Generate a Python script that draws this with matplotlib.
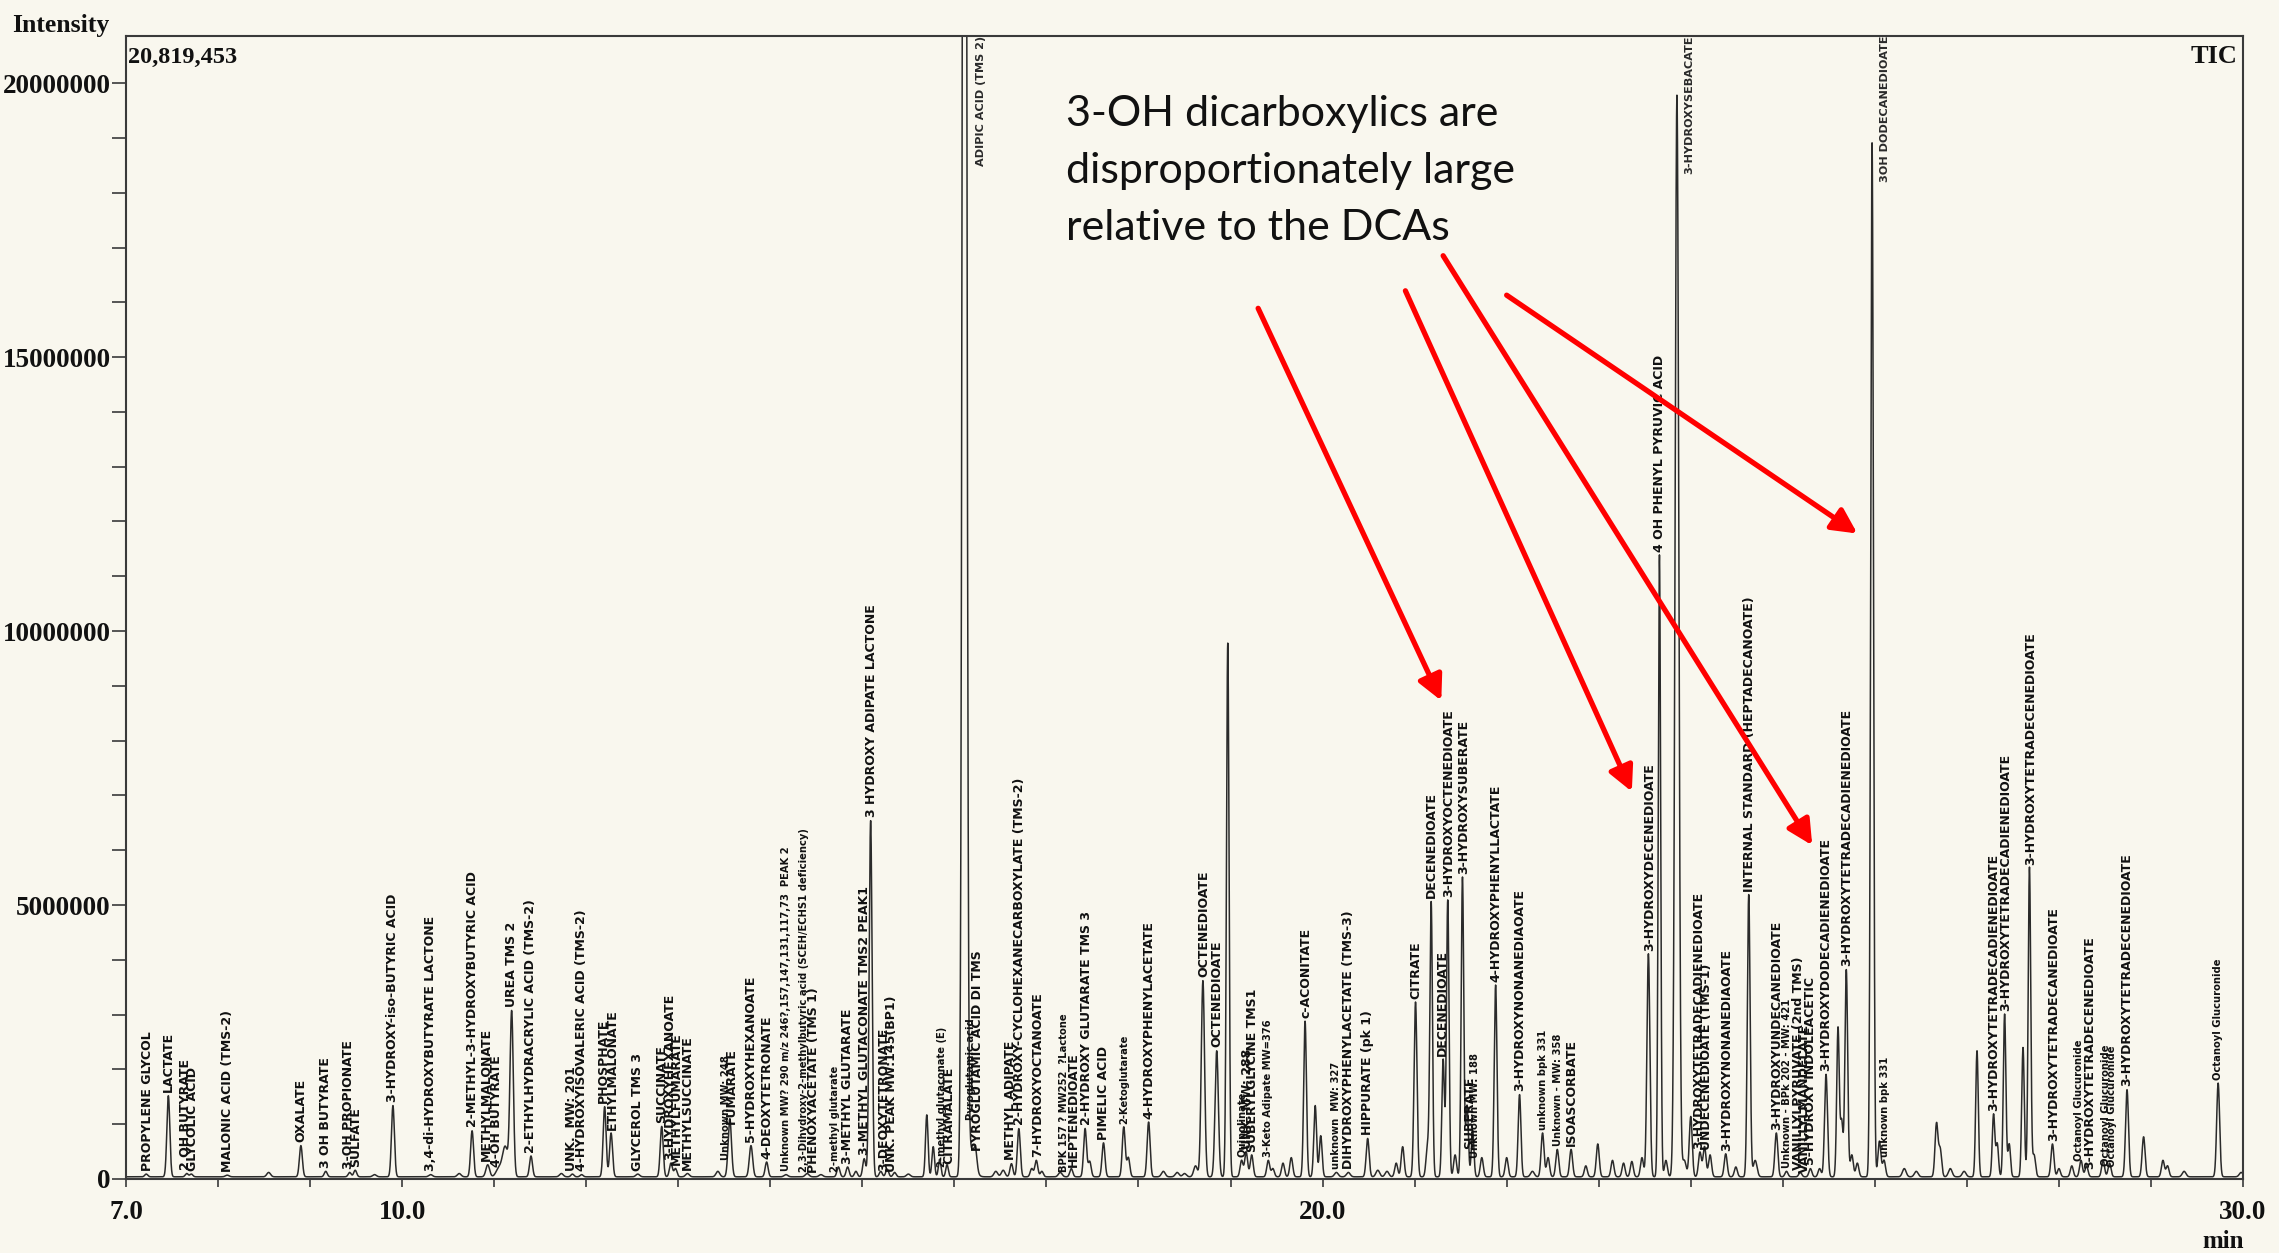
import numpy as np
import matplotlib.pyplot as plt
from matplotlib import font_manager
from matplotlib.ticker import FixedLocator, MultipleLocator, FuncFormatter

# ---------------------------------------------------------------------
# TIC peaks: retention time (min), height (x1e6), sigma (min)
# ---------------------------------------------------------------------
peak_rt = [7.22, 7.46, 7.66, 7.71, 8.10, 8.55, 8.90, 9.17, 9.43, 9.49,
           9.70, 9.90, 10.31, 10.62, 10.76, 10.93, 11.05, 11.12, 11.19, 11.40,
           11.73, 11.85, 11.95, 12.20, 12.27, 12.56, 12.82, 12.92, 12.97, 13.10,
           13.43, 13.56, 13.79, 13.96, 14.17, 14.40, 14.55, 14.74, 14.84, 14.93,
           15.02, 15.09, 15.20, 15.27, 15.35, 15.50, 15.70, 15.77, 15.84, 15.92,
           16.11, 16.18, 16.23, 16.45, 16.53, 16.62, 16.70, 16.84, 16.89, 16.95,
           17.15, 17.27, 17.42, 17.47, 17.62, 17.84, 17.89, 18.11, 18.27, 18.42,
           18.50, 18.62, 18.70, 18.85, 18.97, 19.12, 19.17, 19.23, 19.41, 19.46,
           19.57, 19.66, 19.81, 19.92, 19.98, 20.15, 20.28, 20.49, 20.60, 20.70,
           20.80, 20.87, 21.01, 21.14, 21.18, 21.31, 21.36, 21.44, 21.52, 21.57,
           21.63, 21.73, 21.88, 22.00, 22.14, 22.28, 22.39, 22.45, 22.55, 22.70,
           22.86, 22.99, 23.15, 23.27, 23.36, 23.47, 23.54, 23.66, 23.73, 23.85,
           23.93, 24.00, 24.10, 24.15, 24.21, 24.38, 24.49, 24.63, 24.70, 24.93,
           25.04, 25.19, 25.30, 25.40, 25.47, 25.60, 25.64, 25.69, 25.75, 25.81,
           25.97, 26.05, 26.10, 26.32, 26.45, 26.67, 26.71, 26.82, 26.97, 27.11,
           27.29, 27.33, 27.41, 27.46, 27.61, 27.68, 27.73, 27.93, 28.00, 28.14,
           28.24, 28.30, 28.48, 28.55, 28.74, 28.92, 29.13, 29.18, 29.36, 29.73,
           29.98]
peak_height = [0.05, 1.48, 0.06, 0.05, 0.03, 0.08, 0.57, 0.10, 0.08, 0.12,
               0.04, 1.30, 0.04, 0.06, 0.84, 0.22, 0.15, 0.55, 3.00, 0.38,
               0.06, 0.05, 0.04, 1.28, 0.80, 0.05, 0.92, 0.25, 0.15, 0.06,
               0.10, 1.06, 0.57, 0.27, 0.04, 0.06, 0.04, 0.18, 0.18, 0.10,
               0.33, 6.50, 0.10, 0.14, 0.08, 0.05, 1.13, 0.55, 0.32, 0.22,
               45.0, 0.50, 0.30, 0.10, 0.12, 0.24, 0.88, 0.15, 0.30, 0.10,
               0.08, 0.15, 0.88, 0.28, 0.62, 0.91, 0.35, 1.00, 0.10, 0.08,
               0.06, 0.20, 3.58, 2.30, 9.74, 0.30, 0.45, 0.40, 0.30, 0.15,
               0.25, 0.35, 2.84, 1.30, 0.75, 0.08, 0.08, 0.70, 0.12, 0.10,
               0.25, 0.55, 3.19, 0.55, 5.00, 2.14, 5.05, 0.40, 5.47, 1.30,
               0.85, 0.35, 3.50, 0.35, 1.50, 0.10, 0.80, 0.35, 0.50, 0.50,
               0.20, 0.60, 0.30, 0.25, 0.28, 0.35, 4.07, 11.35, 0.30, 19.74,
               0.30, 1.10, 0.45, 0.55, 0.40, 0.42, 0.18, 5.15, 0.30, 0.80,
               0.10, 0.08, 0.15, 0.15, 1.87, 2.72, 1.00, 3.78, 0.40, 0.25,
               18.87, 0.65, 0.30, 0.15, 0.10, 0.97, 0.50, 0.15, 0.10, 2.30,
               1.14, 0.60, 2.97, 0.60, 2.36, 5.65, 0.40, 0.60, 0.15, 0.20,
               0.30, 0.20, 0.30, 0.25, 1.59, 0.73, 0.30, 0.20, 0.10, 1.71,
               0.08]
peak_sigma = [0.016, 0.016, 0.016, 0.016, 0.020, 0.020, 0.016, 0.016, 0.016, 0.016,
              0.020, 0.016, 0.020, 0.020, 0.016, 0.020, 0.030, 0.030, 0.018, 0.016,
              0.020, 0.016, 0.016, 0.016, 0.016, 0.020, 0.016, 0.016, 0.016, 0.020,
              0.020, 0.018, 0.018, 0.016, 0.020, 0.020, 0.020, 0.016, 0.016, 0.016,
              0.016, 0.016, 0.016, 0.016, 0.016, 0.020, 0.014, 0.014, 0.014, 0.014,
              0.020, 0.040, 0.016, 0.020, 0.020, 0.016, 0.016, 0.016, 0.016, 0.016,
              0.020, 0.016, 0.016, 0.016, 0.016, 0.016, 0.016, 0.016, 0.020, 0.020,
              0.020, 0.020, 0.018, 0.018, 0.014, 0.016, 0.016, 0.016, 0.016, 0.016,
              0.016, 0.016, 0.015, 0.015, 0.015, 0.020, 0.020, 0.016, 0.020, 0.020,
              0.016, 0.016, 0.016, 0.016, 0.014, 0.014, 0.014, 0.016, 0.014, 0.014,
              0.014, 0.016, 0.015, 0.016, 0.015, 0.020, 0.016, 0.016, 0.016, 0.016,
              0.016, 0.016, 0.016, 0.016, 0.016, 0.016, 0.016, 0.013, 0.016, 0.020,
              0.020, 0.016, 0.016, 0.016, 0.016, 0.016, 0.016, 0.015, 0.020, 0.016,
              0.016, 0.016, 0.016, 0.016, 0.016, 0.014, 0.014, 0.015, 0.016, 0.016,
              0.015, 0.016, 0.016, 0.020, 0.020, 0.016, 0.016, 0.020, 0.020, 0.014,
              0.014, 0.014, 0.014, 0.014, 0.014, 0.014, 0.016, 0.016, 0.016, 0.016,
              0.016, 0.016, 0.016, 0.016, 0.016, 0.016, 0.016, 0.016, 0.020, 0.016,
              0.020]
baseline = 0.04  # x1e6

# peak names printed above the apexes
label_rt = [7.23, 7.46, 7.65, 7.72, 8.10, 8.90, 9.17, 9.42, 9.49, 9.90,
            10.31, 10.76, 10.92, 11.02, 11.19, 11.40, 11.84, 11.95, 12.19, 12.28,
            12.56, 12.82, 12.91, 12.98, 13.10, 13.52, 13.58, 13.79, 13.96, 14.17,
            14.37, 14.47, 14.70, 14.84, 15.02, 15.10, 15.23, 15.32, 15.87, 15.94,
            16.18, 16.25, 16.61, 16.71, 16.90, 17.19, 17.29, 17.43, 17.62, 17.85,
            18.11, 18.71, 18.85, 19.12, 19.18, 19.24, 19.41, 19.82, 20.15, 20.28,
            20.49, 21.01, 21.18, 21.30, 21.37, 21.53, 21.60, 21.66, 21.88, 22.14,
            22.40, 22.56, 22.70, 23.55, 23.66, 24.09, 24.17, 24.39, 24.64, 24.93,
            25.05, 25.17, 25.23, 25.30, 25.47, 25.69, 26.11, 27.29, 27.42, 27.69,
            27.94, 28.22, 28.33, 28.51, 28.58, 28.74, 29.73]
label_text = ['PROPYLENE GLYCOL', 'LACTATE', '2 OH BUTYRATE', 'GLYCOLIC ACID',
              'MALONIC ACID (TMS-2)', 'OXALATE', '3 OH BUTYRATE', '3-OH PROPIONATE',
              'SULFATE', '3-HYDROXY-iso-BUTYRIC ACID', '3,4-di-HYDROXYBUTYRATE LACTONE',
              '2-METHYL-3-HYDROXYBUTYRIC ACID', 'METHYLMALONATE', '4-OH BUTYRATE',
              'UREA TMS 2', '2-ETHYLHYDRACRYLIC ACID (TMS-2)', 'UNK.  MW: 201',
              '4-HYDROXYISOVALERIC ACID (TMS-2)', 'PHOSPHATE', 'ETHYLMALONATE',
              'GLYCEROL TMS 3', 'SUCCINATE', '3-HYDROXYHEXANOATE', 'METHYLFUMARATE',
              'METHYLSUCCINATE', 'Unknown MW: 248', 'FUMARATE', '5-HYDROXYHEXANOATE',
              '4-DEOXYTETRONATE',
              'Unknown MW? 290 m/z 246?,157,147,131,117,73  PEAK 2',
              '2,3-Dihydroxy-2-methylbutyric acid (SCEH/ECHS1 deficiency)',
              'PHENOXYACETATE (TMS 1)', '2-methyl glutarate', '3-METHYL GLUTARATE',
              '3-METHYL GLUTACONATE TMS2 PEAK1', '3 HYDROXY ADIPATE LACTONE',
              '3-DEOXYTETRONATE', 'UNK. PEAK MW:145(BP1)', '2-methyl glutaconate (E)',
              'CITRAMALATE', 'Pyroglutamic acid', 'PYROGLUTAMIC ACID DI TMS',
              'METHYL ADIPATE', '2-HYDROXY-CYCLOHEXANECARBOXYLATE (TMS-2)',
              '7-HYDROXYOCTANOATE', 'BPK 157 ? MW252  ?Lactone', 'HEPTENEDIOATE',
              '2-HYDROXY GLUTARATE TMS 3', 'PIMELIC ACID', '2-Ketoglutarate',
              '4-HYDROXYPHENYLACETATE', 'OCTENEDIOATE', 'OCTENEDIOATE', 'Quinolinate',
              'UNK. MW: 288', 'SUBERYLGLYCINE TMS1', '3-Keto Adipate MW=376',
              'c-ACONITATE', 'unknown  MW: 327', 'DIHYDROXYPHENYLACETATE (TMS-3)',
              'HIPPURATE (pk 1)', 'CITRATE', 'DECENEDIOATE', 'DECENEDIOATE',
              '3-HYDROXYOCTENEDIOATE', '3-HYDROXYSUBERATE', 'SUBERATE',
              'Unknown MW: 188', '4-HYDROXYPHENYLLACTATE', '3-HYDROXYNONANEDIAOATE',
              'unknown bpk 331', 'Unknown - MW: 358', 'ISOASCORBATE',
              '3-HYDROXYDECENEDIOATE', '4 OH PHENYL PYRUVIC ACID',
              '3-HYDROXYTETRADECADIENEDIOATE', 'UNDECENEDIOATE (TMS-1)',
              '3-HYDROXYNONANEDIAOATE', 'INTERNAL STANDARD (HEPTADECANOATE)',
              '3-HYDROXYUNDECANEDIOATE', 'Unknown - BPk 202 - MW: 421',
              'VANILLYLPYRUVATE (2nd TMS)', 'VANILLYLMANDELATE', '5-HYDROXY INDOLEACETIC',
              '3-HYDROXYDODECADIENEDIOATE', '3-HYDROXYTETRADECADIENEDIOATE',
              'unknown bpk 331', '3-HYDROXYTETRADECADIENEDIOATE',
              '3-HYDROXYTETRADECADIENEDIOATE', '3-HYDROXYTETRADECENEDIOATE',
              '3-HYDROXYTETRADECANEDIOATE', 'Octanoyl Glucuronide',
              '3-HYDROXYTETRADECENEDIOATE', 'Octanoyl Glucuronide',
              'Octanoyl Glucuronide', '3-HYDROXYTETRADECENEDIOATE',
              'Octanoyl Glucuronide']

# names of the off-scale peaks, hung from the top of the frame
top_label_rt = [16.29, 23.98, 26.11]
top_label_text = ['ADIPIC ACID (TMS 2)', '3-HYDROXYSEBACATE', '3OH DODECANEDIOATE']

note_lines = ['3-OH dicarboxylics are', 'disproportionately large', 'relative to the DCAs']
arrow_from = [(19.30, 15.89), (20.90, 16.21), (21.31, 16.85), (22.00, 16.13)]
arrow_to = [(21.29, 8.73), (23.36, 7.07), (25.32, 6.09), (25.81, 11.78)]

max_intensity = 20819453

# ---------------------------------------------------------------------
W, H = 2279, 1253
bg = '#f9f7ee'
ink = '#111111'
serif = ['Liberation Serif', 'DejaVu Serif']

plt.rcParams['font.family'] = serif
plt.rcParams['font.weight'] = 'bold'
plt.rcParams['xtick.labelsize'] = 19.5
plt.rcParams['ytick.labelsize'] = 19.5
plt.rcParams['xtick.color'] = '#3a3a3a'
plt.rcParams['ytick.color'] = '#3a3a3a'
plt.rcParams['xtick.labelcolor'] = ink
plt.rcParams['ytick.labelcolor'] = ink

try:
    font_manager.findfont('Liberation Sans Narrow', fallback_to_default=False)
    lab_family, lab_size = ['Liberation Sans Narrow', 'DejaVu Sans'], 12.5
except ValueError:
    lab_family, lab_size = ['DejaVu Sans'], 9.0

t = np.linspace(7.0, 30.0, 23001)
tic = np.full_like(t, baseline)
for rt, h, s in zip(peak_rt, peak_height, peak_sigma):
    tic += h * np.exp(-0.5 * ((t - rt) / s) ** 2)
tic *= 1e6

fig = plt.figure(figsize=(W / 100, H / 100), dpi=100, facecolor=bg)
ax = fig.add_axes([126 / W, 1 - 1179 / H, (2243 - 126) / W, (1179 - 36) / H])
ax.set_facecolor(bg)
ax.plot(t, tic, color='#2b2b2b', lw=1.1)
ax.set_xlim(7.0, 30.0)
ax.set_ylim(0, 20.86e6)

for sp in ax.spines.values():
    sp.set_color('#3a3a3a')
    sp.set_linewidth(1.5)

ax.xaxis.set_major_locator(FixedLocator([7, 10, 20, 30]))
ax.xaxis.set_minor_locator(MultipleLocator(1))
ax.xaxis.set_major_formatter(FuncFormatter(lambda v, p: f'{v:.1f}'))
ax.yaxis.set_major_locator(MultipleLocator(5e6))
ax.yaxis.set_minor_locator(MultipleLocator(1e6))
ax.yaxis.set_major_formatter(FuncFormatter(lambda v, p: f'{int(round(v))}'))
ax.tick_params(axis='x', which='both', direction='out', length=6, width=1.2, pad=9)
ax.tick_params(axis='y', which='both', direction='out', length=10, width=1.2, pad=1)
# the "0" sits on top of its tick, as in the print-out
ax.yaxis.get_major_ticks()[0].label1.set_verticalalignment('bottom')

# peak labels, starting just above each apex
for rt, txt in zip(label_rt, label_text):
    near = np.abs(t - rt) <= 0.01
    ybase = tic[near].max()
    letters = [c for c in txt if c.isalpha()]
    lower = sum(c.islower() for c in letters) / len(letters)
    size = lab_size if lower < 0.5 else lab_size * 0.8
    ax.text(rt, ybase + 0.06e6, txt, rotation=90, ha='center', va='bottom',
            fontsize=size, fontfamily=lab_family, fontweight='bold', color=ink)

for rt, txt in zip(top_label_rt, top_label_text):
    ax.text(rt, 1.0, txt, transform=ax.get_xaxis_transform(), rotation=90,
            ha='center', va='top', fontsize=lab_size * 0.9, fontfamily=lab_family,
            fontweight='bold', color='#2a2a2a', clip_on=False)

# red call-out arrows and note
for (x0, y0), (x1, y1) in zip(arrow_from, arrow_to):
    ax.annotate('', xy=(x1, y1 * 1e6), xytext=(x0, y0 * 1e6),
                arrowprops=dict(arrowstyle='-|>,head_length=0.75,head_width=0.38',
                                color='#ff0000', lw=3.8, mutation_scale=20,
                                shrinkA=0, shrinkB=0),
                annotation_clip=False)
for i, line in enumerate(note_lines):
    fig.text(1066 / W, 1 - (126 + 57 * i) / H, line, ha='left', va='baseline',
             fontsize=31, fontfamily=['Lato', 'DejaVu Sans'], fontweight='normal',
             color='#111111')

fig.text(12 / W, 1 - 32 / H, 'Intensity', ha='left', va='baseline', fontsize=18.5,
         fontfamily=serif, fontweight='bold', color=ink)
fig.text(128 / W, 1 - 63 / H, f'{max_intensity:,}', ha='left', va='baseline',
         fontsize=17.5, fontfamily=serif, fontweight='bold', color=ink)
fig.text(2237 / W, 1 - 63 / H, 'TIC', ha='right', va='baseline', fontsize=19,
         fontfamily=serif, fontweight='bold', color=ink)
fig.text(2223 / W, 1 - 1242 / H, 'min', ha='center', va='center', fontsize=18,
         fontfamily=serif, fontweight='bold', color=ink)

fig.savefig('out.png', dpi=100, facecolor=bg)
